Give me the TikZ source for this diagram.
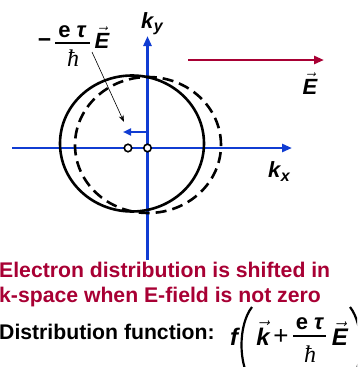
\documentclass[tikz,border=0pt]{standalone}
\usepackage{fontspec}
\setmainfont{Liberation Sans}
\newfontfamily\hbarfont{Liberation Serif}
\usetikzlibrary{arrows.meta}
\definecolor{axblue}{RGB}{16,60,210}
\definecolor{ered}{RGB}{168,0,52}
\newcommand\vecl[1]{\ensuremath{\vec{\mbox{#1}}}}
\tikzset{
  axis/.style={axblue,line width=2.6pt,-{Triangle[length=10pt,width=8pt]}},
  circ/.style={line width=2.6pt},
  lbl/.style={inner sep=0pt,font=\bfseries\itshape\fontsize{22}{24}\selectfont},
  flbl/.style={inner sep=0pt,font=\bfseries\itshape\fontsize{24}{26}\selectfont},
  sub/.style={inner sep=0pt,font=\bfseries\itshape\fontsize{16}{18}\selectfont},
  txt/.style={inner sep=0pt,anchor=base west,font=\bfseries\fontsize{21.2}{24}\selectfont},
  num/.style={inner sep=0pt,font=\bfseries\fontsize{22}{24}\selectfont},
  den/.style={inner sep=0pt,font=\hbarfont\itshape\fontsize{24}{26}\selectfont},
  dot/.style={circle,draw,fill=white,line width=1.6pt,inner sep=0pt,minimum size=7.5pt},
}
\begin{document}
\begin{tikzpicture}[x=1pt,y=-1pt]
\useasboundingbox (0,0) rectangle (357,367);
\clip (0,0) rectangle (357,367);
% axes
\coordinate (xl) at (12,148);
\coordinate (xr) at (292,148);
\coordinate (yb) at (147.5,260);
\coordinate (yt) at (147.5,36);
\draw[axis] (xl) -- (xr);
\draw[axis] (yb) -- (yt);
% distributions
\draw[circ] (132,143.5) ellipse [x radius=72pt, y radius=68pt];
\draw[circ,dash pattern=on 11pt off 6pt] (148,145) ellipse [x radius=73pt, y radius=68pt];
% centres
\node[dot] (c0) at (147.5,148) {};
\node[dot] (c1) at (128,148) {};
% shift arrow
\coordinate (sa) at (147.5,132);
\coordinate (sb) at (123,132);
\draw[axblue,line width=2.2pt,-{Triangle[length=8pt,width=7pt]}] (sa) -- (sb);
% label
\node[inner sep=0pt,font=\bfseries\fontsize{23}{24}\selectfont] (mn) at (44.5,43) {−};
\node[num,anchor=base] (ln) at (72.5,37) {e \textit{τ}};
\coordinate (lb1) at (55,43);
\coordinate (lb2) at (90,43);
\draw[line width=1.1pt] (lb1) -- (lb2);
\node[den,anchor=base] (ld) at (73,66) {ħ};
\node[lbl,anchor=base] (lE) at (102,48) {\vecl{E}};
\coordinate (pa) at (92,52);
\coordinate (pb) at (124,122);
\draw[line width=0.6pt,-{Stealth[length=7pt,width=5pt]}] (pa) -- (pb);
% axis labels
\node[lbl,anchor=base west] (ky) at (141,28) {k};
\node[sub,anchor=base west] (kys) at ([yshift=-3pt]ky.base east) {y};
\node[lbl,anchor=base west] (kx) at (268,177) {k};
\node[sub,anchor=base west] (kxs) at ([yshift=-4pt]kx.base east) {x};
% field
\coordinate (ea) at (188,60);
\coordinate (eb) at (324,60);
\draw[ered,line width=2.6pt,-{Triangle[length=10pt,width=8pt]}] (ea) -- (eb);
\node[lbl,anchor=base] (fE) at (310,94) {\vecl{E}};
% texts
\node[txt,ered] (t1) at (-1,277) {Electron distribution is shifted in};
\node[txt,ered] (t2) at (-1,302) {k-space when E-field is not zero};
\node[txt] (t3) at (-1,339) {Distribution function:};
% formula
\node[flbl,anchor=base] (ff) at (234,345) {f};
\draw[line width=2.2pt] (252,307) .. controls (238,325) and (238,365) .. (252,383);
\node[flbl,anchor=base] (fk) at (263,345) {\vecl{k}};
\node[inner sep=0pt,font=\fontsize{26}{28}\selectfont] (fp) at (281,337) {+};
\node[num,anchor=base] (fn) at (310,329) {e \textit{τ}};
\coordinate (fb1) at (293,336);
\coordinate (fb2) at (326,336);
\draw[line width=1.1pt] (fb1) -- (fb2);
\node[den,anchor=base] (fd) at (310,362) {ħ};
\node[flbl,anchor=base] (fE2) at (340,345) {\vecl{E}};
\draw[line width=2.2pt] (350,307) .. controls (364,325) and (364,365) .. (350,383);
\end{tikzpicture}
\end{document}
